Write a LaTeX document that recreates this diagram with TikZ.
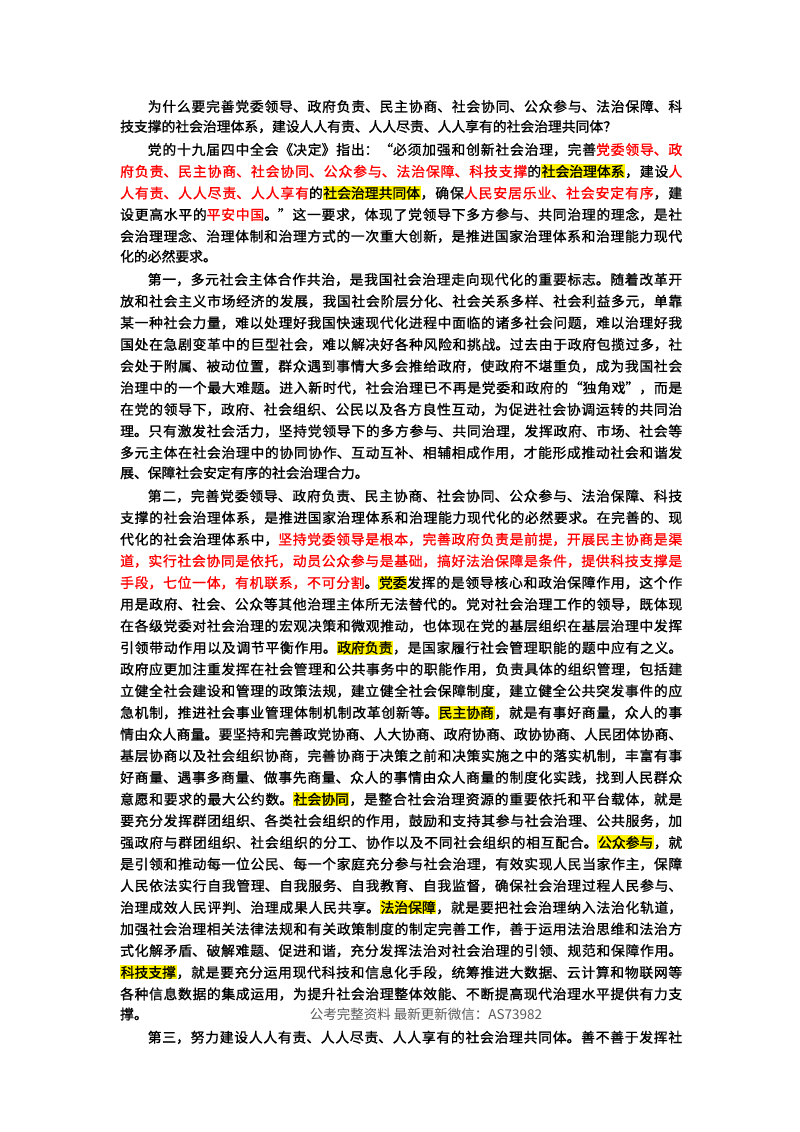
\documentclass[tikz,border=0pt]{standalone}
\usepackage{fontspec}
\usepackage{xcolor}
\newfontfamily\cjk[FakeBold=1.2]{Noto Sans CJK SC}
\newfontfamily\cjkwm{Noto Sans CJK SC}
\XeTeXlinebreaklocale "zh"
\XeTeXlinebreakskip=0pt plus 3pt minus 0.5pt
\newcommand\hlt[1]{{\setlength\fboxsep{0.6pt}\colorbox{yellow}{#1}}}
\newcommand\rd[1]{\textcolor{red}{#1}}
\newcommand\ind{\hspace*{27.6pt}}
\newcommand\LJ[2]{\node[txt] (l#1) at (120,{1132-110-21.65*#1}) {\parbox{562pt}{\parfillskip=0pt\relax\parindent=0pt #2\par}};}
\newcommand\LL[2]{\node[txt] (l#1) at (120,{1132-110-21.65*#1}) {#2};}
\begin{document}
\begin{tikzpicture}[x=1pt,y=1pt,
  txt/.style={anchor=base west,inner sep=0pt,font=\cjk\fontsize{13.8}{21.65}\selectfont}]
\useasboundingbox[fill=white] (0,0) rectangle (800,1132);
\LJ{0}{\ind 为什么要完善党委领导、政府负责、民主协商、社会协同、公众参与、法治保障、科}
\LL{1}{技支撑的社会治理体系，建设人人有责、人人尽责、人人享有的社会治理共同体？}
\LJ{2}{\ind 党的十九届四中全会《决定》指出：“必须加强和创新社会治理，完善\rd{党委领导、政}}
\LJ{3}{\rd{府负责、民主协商、社会协同、公众参与、法治保障、科技支撑}的\hlt{社会治理体系}，建设\rd{人}}
\LJ{4}{\rd{人有责、人人尽责、人人享有}的\hlt{社会治理共同体}，确保\rd{人民安居乐业、社会安定有序}，建}
\LJ{5}{设更高水平的\rd{平安中国}。”这一要求，体现了党领导下多方参与、共同治理的理念，是社}
\LJ{6}{会治理理念、治理体制和治理方式的一次重大创新，是推进国家治理体系和治理能力现代}
\LL{7}{化的必然要求。}
\LJ{8}{\ind 第一，多元社会主体合作共治，是我国社会治理走向现代化的重要标志。随着改革开}
\LJ{9}{放和社会主义市场经济的发展，我国社会阶层分化、社会关系多样、社会利益多元，单靠}
\LJ{10}{某一种社会力量，难以处理好我国快速现代化进程中面临的诸多社会问题，难以治理好我}
\LJ{11}{国处在急剧变革中的巨型社会，难以解决好各种风险和挑战。过去由于政府包揽过多，社}
\LJ{12}{会处于附属、被动位置，群众遇到事情大多会推给政府，使政府不堪重负，成为我国社会}
\LJ{13}{治理中的一个最大难题。进入新时代，社会治理已不再是党委和政府的“独角戏”，而是}
\LJ{14}{在党的领导下，政府、社会组织、公民以及各方良性互动，为促进社会协调运转的共同治}
\LJ{15}{理。只有激发社会活力，坚持党领导下的多方参与、共同治理，发挥政府、市场、社会等}
\LJ{16}{多元主体在社会治理中的协同协作、互动互补、相辅相成作用，才能形成推动社会和谐发}
\LL{17}{展、保障社会安定有序的社会治理合力。}
\LJ{18}{\ind 第二，完善党委领导、政府负责、民主协商、社会协同、公众参与、法治保障、科技}
\LJ{19}{支撑的社会治理体系，是推进国家治理体系和治理能力现代化的必然要求。在完善的、现}
\LJ{20}{代化的社会治理体系中，\rd{坚持党委领导是根本，完善政府负责是前提，开展民主协商是渠}}
\LJ{21}{\rd{道，实行社会协同是依托，动员公众参与是基础，搞好法治保障是条件，提供科技支撑是}}
\LJ{22}{\rd{手段，七位一体，有机联系，不可分割}。\hlt{党委}发挥的是领导核心和政治保障作用，这个作}
\LJ{23}{用是政府、社会、公众等其他治理主体所无法替代的。党对社会治理工作的领导，既体现}
\LJ{24}{在各级党委对社会治理的宏观决策和微观推动，也体现在党的基层组织在基层治理中发挥}
\LJ{25}{引领带动作用以及调节平衡作用。\hlt{政府负责}，是国家履行社会管理职能的题中应有之义。}
\LJ{26}{政府应更加注重发挥在社会管理和公共事务中的职能作用，负责具体的组织管理，包括建}
\LJ{27}{立健全社会建设和管理的政策法规，建立健全社会保障制度，建立健全公共突发事件的应}
\LJ{28}{急机制，推进社会事业管理体制机制改革创新等。\hlt{民主协商}，就是有事好商量，众人的事}
\LJ{29}{情由众人商量。要坚持和完善政党协商、人大协商、政府协商、政协协商、人民团体协商、}
\LJ{30}{基层协商以及社会组织协商，完善协商于决策之前和决策实施之中的落实机制，丰富有事}
\LJ{31}{好商量、遇事多商量、做事先商量、众人的事情由众人商量的制度化实践，找到人民群众}
\LJ{32}{意愿和要求的最大公约数。\hlt{社会协同}，是整合社会治理资源的重要依托和平台载体，就是}
\LJ{33}{要充分发挥群团组织、各类社会组织的作用，鼓励和支持其参与社会治理、公共服务，加}
\LJ{34}{强政府与群团组织、社会组织的分工、协作以及不同社会组织的相互配合。\hlt{公众参与}，就}
\LJ{35}{是引领和推动每一位公民、每一个家庭充分参与社会治理，有效实现人民当家作主，保障}
\LJ{36}{人民依法实行自我管理、自我服务、自我教育、自我监督，确保社会治理过程人民参与、}
\LJ{37}{治理成效人民评判、治理成果人民共享。\hlt{法治保障}，就是要把社会治理纳入法治化轨道，}
\LJ{38}{加强社会治理相关法律法规和有关政策制度的制定完善工作，善于运用法治思维和法治方}
\LJ{39}{式化解矛盾、破解难题、促进和谐，充分发挥法治对社会治理的引领、规范和保障作用。}
\LJ{40}{\hlt{科技支撑}，就是要充分运用现代科技和信息化手段，统筹推进大数据、云计算和物联网等}
\LJ{41}{各种信息数据的集成运用，为提升社会治理整体效能、不断提高现代治理水平提供有力支}
\LL{42}{撑。}
\node[anchor=base, inner sep=0pt, text=black!65, font=\cjkwm\fontsize{13.5}{16}\selectfont] (wm) at (426,{1132-110-21.65*42}) {公考完整资料 最新更新微信：AS73982};
\LJ{43}{\ind 第三，努力建设人人有责、人人尽责、人人享有的社会治理共同体。善不善于发挥社}
\end{tikzpicture}
\end{document}
